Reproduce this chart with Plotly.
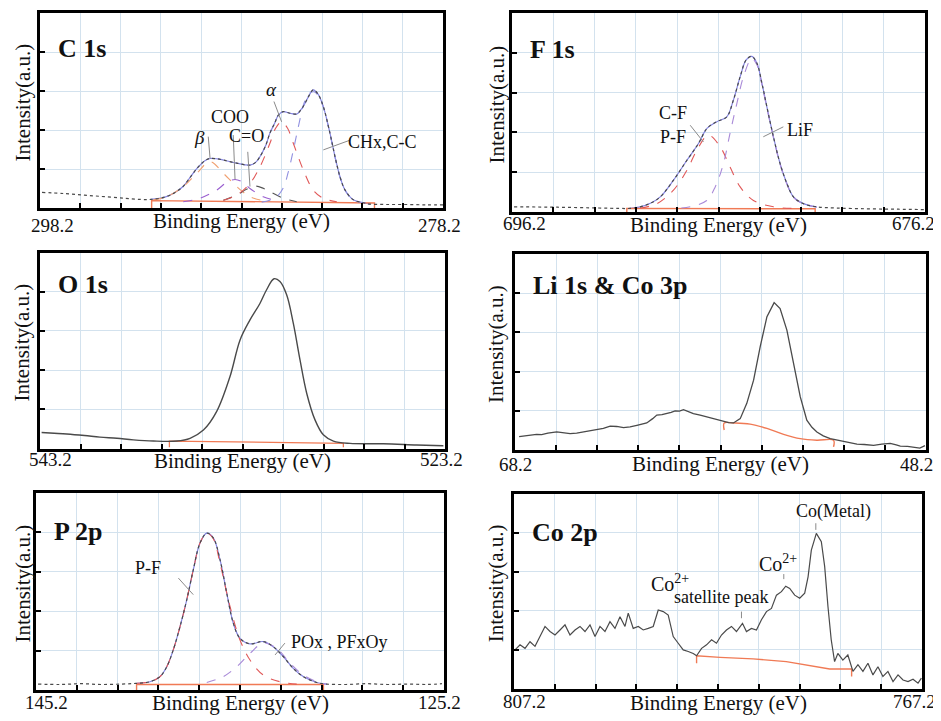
import plotly.graph_objects as go

W, H = 941, 721
PAGE_OFF = 8  # default page margin of the html body

# ---------------- C 1s ----------------
c1s_ev = [298.1, 297.0, 296.0, 295.0, 294.0, 293.2, 292.7, 292.0, 291.5, 291.1, 290.8, 290.4, 290.0, 289.76,
          289.4, 289.1, 288.44, 287.78, 287.5, 287.28, 287.0, 286.79, 286.55, 286.37, 286.13, 285.79, 285.46,
          285.25, 285.05, 284.85, 284.64, 284.4, 284.14, 283.81, 283.56, 283.31, 283.06, 282.65, 282.2, 281.82,
          281.0, 280.0, 279.0, 278.2]
c1s_int = [0.40, 0.37, 0.33, 0.29, 0.25, 0.22, 0.22, 0.28, 0.40, 0.55, 0.75, 1.02, 1.22, 1.27,
           1.26, 1.23, 1.15, 1.10, 1.17, 1.32, 1.60, 1.92, 2.18, 2.38, 2.47, 2.43, 2.41,
           2.52, 2.68, 2.88, 3.03, 2.92, 2.60, 1.92, 1.32, 0.80, 0.46, 0.21, 0.14, 0.10,
           0.09, 0.09, 0.08, 0.08]
c1s_chx_ev = [287.2, 286.8, 286.45, 286.12, 285.88, 285.6, 285.35, 285.1, 284.85, 284.6, 284.35, 284.1,
              283.81, 283.56, 283.31, 283.06, 282.65, 282.2, 281.8]
c1s_chx_int = [0.15, 0.20, 0.29, 0.52, 0.92, 1.55, 2.15, 2.68, 2.93, 2.98, 2.85, 2.52,
               1.90, 1.30, 0.78, 0.45, 0.20, 0.14, 0.12]
c1s_alpha_ev = [289.1, 288.44, 287.78, 287.28, 286.79, 286.5, 286.21, 285.92, 285.63, 285.13, 284.64, 284.14, 283.47]
c1s_alpha_int = [0.20, 0.33, 0.63, 1.06, 1.66, 2.05, 2.21, 2.05, 1.66, 0.97, 0.46, 0.25, 0.16]
c1s_beta_ev = [292.58, 291.91, 291.09, 290.42, 289.76, 289.1, 288.44, 287.78, 287.12]
c1s_beta_int = [0.21, 0.29, 0.55, 0.89, 1.19, 0.89, 0.55, 0.29, 0.19]
c1s_coo_ev = [291.09, 290.26, 289.43, 288.95, 288.52, 288.1, 287.78, 287.12, 286.45]
c1s_coo_int = [0.16, 0.25, 0.46, 0.65, 0.73, 0.65, 0.50, 0.29, 0.19]
c1s_co_ev = [289.1, 288.44, 287.95, 287.48, 287.1, 286.79, 286.12, 285.46]
c1s_co_int = [0.20, 0.33, 0.48, 0.56, 0.50, 0.42, 0.25, 0.16]
c1s_base_ev = [292.66, 292.66, 281.6, 281.6]
c1s_base_int = [0.0, 0.19, 0.13, 0.0]

# ---------------- F 1s ----------------
f1s_ev = [696.1, 694.0, 692.0, 691.0, 690.5, 689.99, 689.5, 689.02, 688.38, 687.73, 687.17, 686.76, 686.28,
          685.8, 685.48, 685.15, 684.86, 684.59, 684.34, 684.1, 683.86, 683.54, 683.22, 682.89, 682.57,
          682.09, 681.44, 680.5, 679.0, 677.5, 676.2]
f1s_int = [0.13, 0.12, 0.10, 0.09, 0.09, 0.13, 0.22, 0.38, 0.80, 1.30, 1.72, 2.10, 2.27,
           2.39, 2.81, 3.40, 3.82, 3.91, 3.74, 3.24, 2.65, 1.89, 1.22, 0.72, 0.38,
           0.21, 0.13, 0.10, 0.08, 0.07, 0.06]
f1s_cf_ev = [690.0, 689.18, 688.38, 687.73, 687.25, 686.69, 686.12, 685.64, 685.15, 684.51, 683.54, 682.5]
f1s_cf_int = [0.10, 0.21, 0.55, 1.05, 1.55, 1.93, 1.64, 1.13, 0.63, 0.29, 0.13, 0.09]
f1s_lif_ev = [688.0, 687.57, 686.77, 686.36, 685.96, 685.64, 685.31, 684.99, 684.59, 684.34, 684.1, 683.86,
              683.54, 683.22, 682.89, 682.57, 682.09, 681.44]
f1s_lif_int = [0.10, 0.13, 0.29, 0.63, 1.22, 1.98, 2.73, 3.40, 3.86, 3.70, 3.20, 2.62,
               1.87, 1.20, 0.70, 0.37, 0.20, 0.12]
f1s_base_ev = [690.64, 690.64, 681.52, 681.52]
f1s_base_int = [0.0, 0.09, 0.08, 0.0]

# ---------------- O 1s ----------------
o1s_ev = [543.12, 542.5, 541.88, 541.0, 540.24, 539.4, 538.59, 537.6, 536.45, 535.79, 535.13, 534.48, 533.82,
          533.32, 532.83, 532.34, 532.01, 531.64, 531.35, 531.02, 530.69, 530.36, 530.03, 529.62, 529.21,
          528.71, 527.89, 526.25, 524.6, 523.28]
o1s_int = [0.41, 0.39, 0.37, 0.33, 0.29, 0.26, 0.22, 0.19, 0.19, 0.26, 0.47, 0.94, 1.83,
           2.77, 3.28, 3.70, 4.05, 4.33, 4.26, 3.92, 3.19, 2.26, 1.41, 0.73, 0.35,
           0.19, 0.13, 0.12, 0.09, 0.07]
o1s_base_ev = [536.81, 536.81, 528.22, 528.22]
o1s_base_int = [0.03, 0.19, 0.13, 0.03]

# ---------------- Li 1s & Co 3p ----------------
li_ev = [68.0, 67.7, 67.4, 67.15, 66.9, 66.6, 66.17, 65.9, 65.52, 65.2, 64.87, 64.55, 64.22, 63.9, 63.57,
         63.25, 62.92, 62.6, 62.27, 62.0, 61.79, 61.5, 61.3, 61.05, 60.81, 60.6, 60.41, 60.2, 60.0, 59.75,
         59.52, 59.19, 58.85, 58.54, 58.3, 58.06, 57.8, 57.57, 57.24, 56.92, 56.59, 56.27, 55.94, 55.59,
         55.3, 54.97, 54.65, 54.32, 54.0, 53.75, 53.51, 53.2, 52.86, 52.5, 52.21, 51.9, 51.56, 51.2, 50.75,
         50.35, 49.94, 49.65, 49.45, 49.1, 48.8, 48.5, 48.25]
li_int = [0.34, 0.36, 0.38, 0.40, 0.39, 0.43, 0.46, 0.44, 0.42, 0.43, 0.46, 0.50, 0.52, 0.55, 0.61,
          0.60, 0.57, 0.59, 0.63, 0.66, 0.69, 0.80, 0.89, 0.90, 0.93, 0.96, 1.00, 0.99, 1.03, 0.98,
          0.93, 0.89, 0.84, 0.80, 0.76, 0.72, 0.70, 0.69, 0.80, 1.19, 1.78, 2.63, 3.40, 3.76,
          3.61, 3.06, 2.21, 1.36, 0.76, 0.58, 0.46, 0.36, 0.29, 0.25, 0.21, 0.17, 0.15, 0.14, 0.12,
          0.15, 0.17, 0.13, 0.10, 0.09, 0.07, 0.05, 0.11]
li_base_ev = [58.02, 58.02, 57.57, 56.76, 55.94, 55.13, 54.32, 53.51, 52.7, 52.7]
li_base_int = [0.51, 0.69, 0.69, 0.66, 0.55, 0.40, 0.29, 0.25, 0.25, 0.08]

# ---------------- P 2p ----------------
p2p_ev = [145.1, 144.0, 143.0, 142.0, 141.0, 140.26, 139.61, 139.12, 138.79, 138.47, 138.14, 137.81, 137.49,
          137.16, 136.83, 136.51, 136.18, 135.85, 135.53, 135.2, 134.71, 134.06, 133.57, 133.08, 132.59,
          132.1, 131.44, 130.95, 130.0, 129.0, 128.0, 127.0, 126.0, 125.3]
p2p_int = [0.15, 0.14, 0.16, 0.14, 0.15, 0.17, 0.21, 0.34, 0.59, 1.02, 1.61, 2.29, 3.05,
           3.73, 3.98, 3.86, 3.31, 2.46, 1.70, 1.31, 1.17, 1.23, 1.10, 0.85, 0.55,
           0.34, 0.19, 0.15, 0.14, 0.16, 0.14, 0.15, 0.14, 0.16]
p2p_pf_ev = [140.26, 139.61, 139.12, 138.79, 138.47, 138.14, 137.81, 137.49, 137.16, 136.83, 136.51, 136.18,
             135.69, 135.2, 134.71, 134.06, 133.24, 132.42]
p2p_pf_int = [0.17, 0.21, 0.34, 0.59, 1.02, 1.61, 2.29, 3.05, 3.73, 3.98, 3.84, 3.22,
              2.12, 1.27, 0.76, 0.38, 0.21, 0.15]
p2p_pox_ev = [136.83, 136.02, 135.36, 134.71, 134.06, 133.4, 132.75, 132.1, 131.44, 130.95]
p2p_pox_int = [0.19, 0.34, 0.59, 0.93, 1.19, 1.06, 0.68, 0.38, 0.21, 0.15]
p2p_base_ev = [140.27, 140.27, 131.11, 131.11]
p2p_base_int = [0.0, 0.14, 0.14, 0.0]

# ---------------- Co 2p ----------------
co_ev = [807.1, 806.61, 806.12, 805.63, 805.14, 804.65, 804.16, 803.67, 803.18, 802.69, 802.2, 801.71,
         801.22, 800.73, 800.24, 799.75, 799.26, 798.77, 798.28, 797.79, 797.3, 796.81, 796.32, 796.0,
         795.51, 795.02, 794.53, 794.04, 793.55, 793.06, 792.57, 792.08, 791.59, 791.1, 790.61, 790.12,
         789.63, 789.3, 788.81, 788.32, 787.83, 787.35, 786.86, 786.37, 785.88, 785.39, 784.8, 784.41,
         783.92, 783.43, 782.94, 782.45, 781.96, 781.47, 780.98, 780.56, 780.17, 779.68, 779.19, 778.7,
         778.37, 778.05, 777.56, 777.07, 776.74, 776.42, 776.1, 775.77, 775.45, 774.96, 774.47, 773.97,
         773.48, 772.99, 772.5, 772.01, 771.52, 771.03, 770.54, 770.04, 769.55, 769.06, 768.57, 768.08,
         767.59, 767.26]
co_int = [1.00, 1.13, 1.04, 1.21, 1.09, 1.34, 1.60, 1.47, 1.38, 1.51, 1.64, 1.38,
          1.51, 1.60, 1.47, 1.64, 1.34, 1.60, 1.47, 1.72, 1.55, 1.85, 1.60, 1.94,
          1.55, 1.60, 1.51, 1.55, 1.60, 2.02, 1.98, 1.89, 1.34, 1.17, 1.00, 0.96,
          0.91, 0.85, 1.04, 1.13, 1.26, 1.17, 1.38, 1.51, 1.60, 1.47, 1.68, 1.47,
          1.55, 1.51, 1.77, 1.98, 2.06, 2.40, 2.49, 2.63, 2.57, 2.40, 2.32, 2.45,
          2.87, 3.55, 3.98, 3.77, 3.13, 2.11, 1.26, 0.70, 0.91, 0.74, 0.87, 0.45,
          0.62, 0.45, 0.66, 0.36, 0.57, 0.32, 0.45, 0.19, 0.36, 0.23, 0.19, 0.25,
          0.15, 0.28]
co_base_ev = [789.3, 789.3, 787.0, 783.76, 780.5, 777.23, 776.25, 774.1, 774.1]
co_base_int = [0.66, 0.85, 0.81, 0.77, 0.70, 0.56, 0.51, 0.51, 0.32]

# panel meta
panel_titles = ["C 1s", "F 1s", "O 1s", "Li 1s &amp; Co 3p", "P 2p", "Co 2p"]
panel_ranges = [(298.2, 278.2), (696.2, 676.2), (543.2, 523.2), (68.2, 48.2), (145.2, 125.2), (807.2, 767.2)]
panel_dticks = [2, 2, 2, 2, 2, 4]
tick_texts = [("298.2", "278.2"), ("696.2", "676.2"), ("543.2", "523.2"),
              ("68.2", "48.2"), ("145.2", "125.2"), ("807.2", "767.2")]

# frames in page pixels: left, right, top, bottom
frames = [(40, 443, 13, 208), (512, 925, 13, 212), (40, 445, 252.5, 448.5),
          (515, 926, 254, 450), (36, 444, 493, 690), (514, 922, 493.5, 689)]
title_shift = [-35, -36, -32, -31, -38, -39]
left_tick_shift = [12, 12, 10, 0, 10, 10]
right_tick_shift = [-4, -12, -4, -10, -5, -8]
tick_vshift = [-17, -11, -10.5, -14, -12, -12.5]
xtitle_vshift = [-13, -13, -12.5, -14, -13, -14]
ytitle_shift = [-18, -16, -19, -19, -14, -18]

FONT = "Liberation Serif, Times New Roman, serif"
GRID = "#d3e2ee"
DATA_C = "#4a4a4a"
FIT_C = "#8585e2"
RED_C = "#e05858"
PURP_C = "#a98ad8"
BASE_C = "#f07a55"

fig = go.Figure()


def ax(i):
    return ("x" if i == 0 else f"x{i+1}"), ("y" if i == 0 else f"y{i+1}")


def add(i, xs, ys, color, dash="solid", width=1.2, shape="spline"):
    xa, ya = ax(i)
    fig.add_trace(go.Scatter(x=xs, y=ys, mode="lines", xaxis=xa, yaxis=ya,
                             line=dict(color=color, dash=dash, width=width, shape=shape),
                             showlegend=False, hoverinfo="skip"))


def fit_slice(xs, ys, hi, lo):
    pts = [(a, b) for a, b in zip(xs, ys) if lo <= a <= hi]
    return [p[0] for p in pts], [p[1] for p in pts]


# C 1s
fx, fy = fit_slice(c1s_ev, c1s_int, 292.7, 281.8)
add(0, fx, fy, FIT_C, "solid", 1.2)
add(0, c1s_base_ev, c1s_base_int, BASE_C, "solid", 1.4, "linear")
add(0, c1s_beta_ev, c1s_beta_int, "#f0a070", "dash", 1.1)
add(0, c1s_coo_ev, c1s_coo_int, "#9a5fd0", "dash", 1.1)
add(0, c1s_co_ev, c1s_co_int, "#555555", "dash", 1.1)
add(0, c1s_alpha_ev, c1s_alpha_int, RED_C, "dash", 1.1)
add(0, c1s_chx_ev, c1s_chx_int, "#9090e0", "dash", 1.1)
add(0, c1s_ev, c1s_int, DATA_C, "dot", 1.2)

# F 1s
fx, fy = fit_slice(f1s_ev, f1s_int, 690.6, 681.4)
add(1, fx, fy, FIT_C, "solid", 1.2)
add(1, f1s_base_ev, f1s_base_int, BASE_C, "solid", 1.4, "linear")
add(1, f1s_cf_ev, f1s_cf_int, RED_C, "dash", 1.1)
add(1, f1s_lif_ev, f1s_lif_int, PURP_C, "dash", 1.1)
add(1, f1s_ev, f1s_int, DATA_C, "dot", 1.2)

# O 1s
add(2, o1s_base_ev, o1s_base_int, BASE_C, "solid", 1.3, "linear")
add(2, o1s_ev, o1s_int, DATA_C, "solid", 1.4)

# Li 1s & Co 3p
add(3, li_base_ev, li_base_int, BASE_C, "solid", 1.4, "spline")
add(3, li_ev, li_int, DATA_C, "solid", 1.3, "linear")

# P 2p
fx, fy = fit_slice(p2p_ev, p2p_int, 140.3, 130.9)
add(4, fx, fy, FIT_C, "solid", 1.2)
add(4, p2p_base_ev, p2p_base_int, BASE_C, "solid", 1.4, "linear")
add(4, p2p_pf_ev, p2p_pf_int, RED_C, "dash", 1.1)
add(4, p2p_pox_ev, p2p_pox_int, PURP_C, "dash", 1.1)
add(4, p2p_ev, p2p_int, DATA_C, "dot", 1.2)

# Co 2p
add(5, co_base_ev, co_base_int, BASE_C, "solid", 1.4, "linear")
add(5, co_ev, co_int, DATA_C, "solid", 1.2, "linear")

layout = dict(width=W, height=H, margin=dict(l=0, r=0, t=0, b=0),
              paper_bgcolor="white", plot_bgcolor="white", showlegend=False,
              font=dict(family=FONT, color="#111"))
annotations = []
shapes = []

for i in range(6):
    l, r, t, b = [v - PAGE_OFF for v in frames[i]]
    hi, lo = panel_ranges[i]
    key = "" if i == 0 else str(i + 1)
    common = dict(showgrid=True, gridcolor=GRID, gridwidth=1, zeroline=False,
                  showline=True, linecolor="black", linewidth=3, mirror=True,
                  ticks="inside", ticklen=5, tickwidth=1.5, tickcolor="black",
                  showticklabels=False)
    layout["xaxis" + key] = dict(domain=[l / W, r / W], range=[hi, lo], tickmode="linear",
                                 tick0=lo, dtick=panel_dticks[i], anchor="y" + key, **common)
    layout["yaxis" + key] = dict(domain=[1 - b / H, 1 - t / H], range=[0, 5], tickmode="linear",
                                 tick0=0, dtick=1, anchor="x" + key, **common)
    xd, yd = f"x{key} domain", f"y{key} domain"
    # end tick labels
    annotations.append(dict(text=tick_texts[i][0], xref=xd, yref=yd, x=0, y=0, xanchor="center",
                            yanchor="middle", xshift=left_tick_shift[i], yshift=tick_vshift[i],
                            showarrow=False, font=dict(size=19, family=FONT, color="#111")))
    annotations.append(dict(text=tick_texts[i][1], xref=xd, yref=yd, x=1, y=0, xanchor="center",
                            yanchor="middle", xshift=right_tick_shift[i], yshift=tick_vshift[i],
                            showarrow=False, font=dict(size=19, family=FONT, color="#111")))
    annotations.append(dict(text="Binding Energy (eV)", xref=xd, yref=yd, x=0.5, y=0, xanchor="center",
                            yanchor="middle", yshift=xtitle_vshift[i], showarrow=False,
                            font=dict(size=21, family=FONT, color="#111")))
    annotations.append(dict(text="Intensity(a.u.)", xref=xd, yref=yd, x=0, y=0.5, xanchor="center",
                            yanchor="middle", xshift=ytitle_shift[i], yshift=8, textangle=-90,
                            showarrow=False, font=dict(size=21, family=FONT, color="#111")))
    annotations.append(dict(text="<b>" + panel_titles[i] + "</b>", xref=xd, yref=yd, x=0, y=1,
                            xanchor="left", yanchor="middle", xshift=16, yshift=title_shift[i],
                            showarrow=False, font=dict(size=26, family=FONT, color="#111")))

# peak labels (data coords) and leader lines
labels = [
    (0, 290.26, 1.82, "<i>β</i>", 19), (0, 288.77, 2.33, "COO", 18), (0, 287.93, 1.85, "C=O", 18),
    (0, 286.69, 3.03, "<i>α</i>", 19), (0, 281.18, 1.69, "CHx,C-C", 18),
    (1, 688.38, 2.48, "C-F", 18), (1, 688.38, 1.89, "P-F", 18), (1, 682.25, 2.06, "LiF", 18),
    (4, 139.7, 3.09, "P-F", 18), (4, 130.3, 1.23, "POx , PFxOy", 18),
    (5, 775.92, 4.53, "Co(Metal)", 18), (5, 781.31, 3.22, "Co<sup>2+</sup>", 20),
    (5, 791.92, 2.71, "Co<sup>2+</sup>", 20), (5, 786.95, 2.35, "satellite peak", 18),
]
for i, x, y, txt, sz in labels:
    xa, ya = ax(i)
    annotations.append(dict(text=txt, x=x, y=y, xref=xa, yref=ya, showarrow=False,
                            xanchor="center", yanchor="middle",
                            font=dict(size=sz, family=FONT, color="#111")))

leaders = [
    (0, 289.85, 1.83, 289.76, 1.27), (0, 288.61, 1.87, 288.52, 0.73), (0, 287.89, 1.44, 287.78, 0.55),
    (0, 286.59, 2.73, 286.21, 2.21), (0, 282.81, 1.74, 284.14, 1.49),
    (1, 687.57, 2.18, 686.93, 1.76), (1, 683.06, 2.14, 684.03, 1.89),
    (4, 138.22, 2.84, 137.49, 2.42), (4, 133.0, 1.19, 133.48, 0.89),
    (5, 777.61, 4.24, 777.61, 4.07), (5, 780.75, 2.94, 780.75, 2.81), (5, 784.9, 1.98, 784.9, 1.81),
]
for i, x0, y0, x1, y1 in leaders:
    xa, ya = ax(i)
    shapes.append(dict(type="line", xref=xa, yref=ya, x0=x0, y0=y0, x1=x1, y1=y1,
                       line=dict(color="#8a8a8a", width=1)))

layout["annotations"] = annotations
layout["shapes"] = shapes
fig.update_layout(**layout)
fig.write_html("out.html")
